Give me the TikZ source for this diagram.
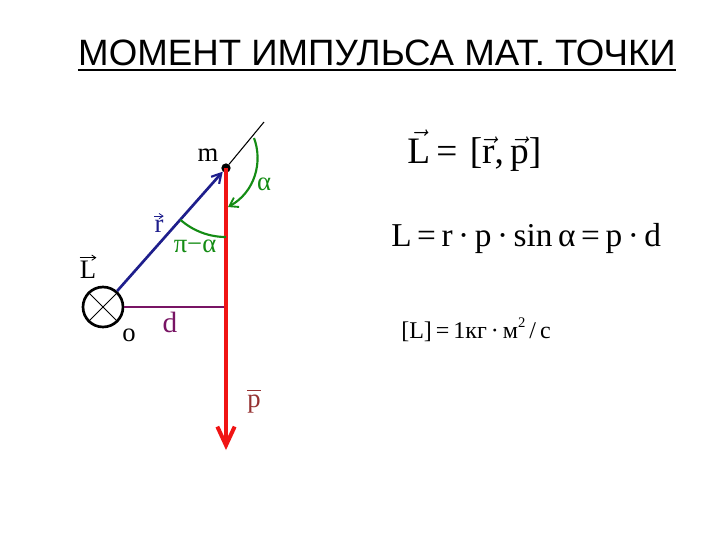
\documentclass[tikz,border=0pt]{standalone}
\usepackage{fontspec}
\setmainfont{Liberation Serif}
\newfontfamily\sansf{Liberation Sans}
\usetikzlibrary{arrows.meta}
\definecolor{rnavy}{RGB}{30,30,140}
\definecolor{rgreen}{RGB}{20,140,20}
\definecolor{rpurple}{RGB}{120,20,100}
\definecolor{rbrown}{RGB}{150,50,50}
\definecolor{rred}{RGB}{240,20,20}
\newcommand\smallvec[1]{$\vec{\mbox{#1}}$}
\begin{document}
\begin{tikzpicture}[x=0.75pt,y=-0.75pt,
  lbl/.style={inner sep=0pt, font=\fontsize{20}{22}\selectfont},
  vbar/.style={line width=0.6pt},
  varr/.style={line width=0.6pt, -{Straight Barb[length=3pt,width=4pt]}},
  eqn/.style={inner sep=0pt, anchor=west}]
\useasboundingbox (0,0) rectangle (720,540);
\fill[white] (0,0) rectangle (720,540);
% title
\node[inner sep=0pt, anchor=base, font=\sansf\fontsize{27.5}{30}\selectfont] (title) at (377,65) {МОМЕНТ ИМПУЛЬСА МАТ. ТОЧКИ};
\draw[line width=1.5pt] ([yshift=-4pt]title.base west) -- ([yshift=-4pt]title.base east);
% diagram
\node[circle, draw, line width=2pt, minimum size=30pt, inner sep=0pt] (O) at (103,307) {};
\draw[line width=0.6pt] (O.north west) -- (O.south east);
\draw[line width=0.6pt] (O.north east) -- (O.south west);
\node[circle, fill=black, inner sep=0pt, minimum size=7pt] (m) at (226,168) {};
\coordinate (e) at (264,122);
\coordinate (dfoot) at (226,307);
\coordinate (pend) at (226,450);
\draw[line width=0.8pt] (m) -- (e);
\draw[rpurple, line width=1.6pt] (O) -- (dfoot);
\draw[rred, line width=3pt, -{Straight Barb[length=14pt,width=13pt,line width=3pt]}] (m.center) -- (pend);
\draw[rnavy, line width=2pt, -{Straight Barb[length=7pt,width=8pt,line width=1.6pt]}] (O) -- (m);
% angles
\draw[rgreen, line width=1.6pt] (m.center) ++(131.3:69) arc[start angle=131.3, end angle=90, radius=69];
\coordinate (a1) at (254,138);
\coordinate (a2) at (228,207);
\draw[rgreen, line width=1.6pt, -{Straight Barb[length=6pt,width=8pt,line width=1.4pt]}] (a1) .. controls (263,162) and (255,192) .. (a2);
% labels
\node[lbl] (lm) at (208,155) {m};
\node[lbl, rgreen] (lal) at (264,184) {α};
\node[lbl, rnavy] (lr) at (159,226) {r};
\draw[varr, rnavy] ([yshift=2.5pt]lr.north west) -- ([yshift=2.5pt]lr.north east);
\node[lbl, rgreen] (lpa) at (195,246) {π−α};
\node[lbl] (lL) at (88,270) {L};
\draw[varr] ([yshift=2.5pt]lL.north west) -- ([yshift=2.5pt]lL.north east);
\node[lbl, rpurple, font=\fontsize{22}{24}\selectfont] (ld) at (170,322) {d};
\node[lbl] (lo) at (129,335) {o};
\node[lbl, rbrown] (lp) at (254,404) {p};
\draw[vbar, rbrown] ([yshift=3pt]lp.north west) -- ([yshift=3pt]lp.north east);
% equations
\node[eqn, font=\fontsize{28}{30}\selectfont] (eq1) at (407,151) {\smallvec{L}\,=\,\,[\smallvec{r},\,\smallvec{p}]};
\node[eqn, font=\fontsize{25}{28}\selectfont] (eq2) at (391,238) {L\,=\,r\,·\,p\,·\,sin\,α\,=\,p\,·\,d};
\node[eqn, font=\fontsize{18}{22}\selectfont] (eq3) at (401,330) {[L]\,=\,1кг\,·\,м\raisebox{0.45em}{\fontsize{11}{12}\selectfont 2}\,/\,с};
\end{tikzpicture}
\end{document}
